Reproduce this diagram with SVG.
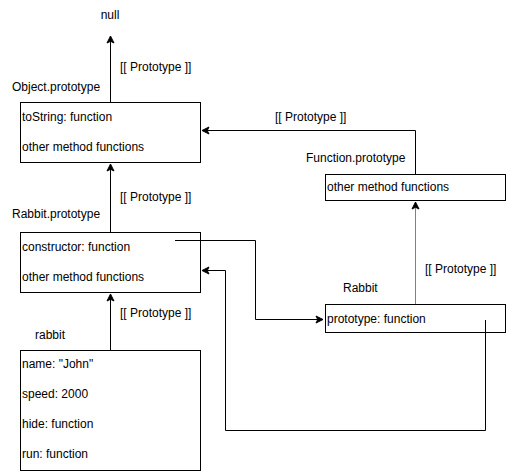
<svg xmlns="http://www.w3.org/2000/svg" width="506" height="471" viewBox="0 0 506 471">
<style>
.box{fill:#fff;stroke:#000;stroke-width:1}
.t{font-family:"Liberation Sans",Arial,Helvetica,sans-serif;font-size:12px;fill:#000}
.c{fill:none;stroke:#000;stroke-width:1}
.g{fill:none;stroke:#808080;stroke-width:1}
</style>
<defs>
<marker id="arr" markerWidth="10" markerHeight="10" refX="8" refY="5" orient="auto" markerUnits="userSpaceOnUse">
<path d="M1,1.5 L8,5 L1,8.5 L2.75,5 Z" fill="#000" stroke="#000" stroke-width="1"/>
</marker>
</defs>
<rect width="506" height="471" fill="#fff"/>
<g id="null"><text class="t" x="110" y="19" text-anchor="middle">null</text></g>
<g id="object-prototype">
<text class="t" x="12" y="91">Object.prototype</text>
<rect class="box" x="20.5" y="102.5" width="180" height="60"/>
<text class="t" x="22" y="121">toString: function</text>
<text class="t" x="22" y="151">other method functions</text>
</g>
<g id="rabbit-prototype">
<text class="t" x="12" y="218">Rabbit.prototype</text>
<rect class="box" x="20.5" y="232.5" width="180" height="60"/>
<text class="t" x="22" y="251">constructor: function</text>
<text class="t" x="22" y="281">other method functions</text>
</g>
<g id="rabbit">
<text class="t" x="35" y="339">rabbit</text>
<rect class="box" x="20.5" y="350.5" width="180" height="120"/>
<text class="t" x="22" y="368">name: "John"</text>
<text class="t" x="22" y="398">speed: 2000</text>
<text class="t" x="22" y="428">hide: function</text>
<text class="t" x="22" y="458">run: function</text>
</g>
<g id="function-prototype">
<text class="t" x="306" y="162">Function.prototype</text>
<rect class="box" x="325.5" y="174.5" width="180" height="26"/>
<text class="t" x="327" y="191">other method functions</text>
</g>
<g id="Rabbit">
<text class="t" x="343" y="292">Rabbit</text>
<rect class="box" x="325.5" y="304.5" width="180" height="28"/>
<text class="t" x="327" y="323">prototype: function</text>
</g>
<g id="connectors">
<path class="c" d="M110.5,102 L110.5,36" marker-end="url(#arr)"/>
<path class="c" d="M110.5,232 L110.5,164" marker-end="url(#arr)"/>
<path class="c" d="M110.5,350 L110.5,294" marker-end="url(#arr)"/>
<path class="c" d="M415.5,174 L415.5,130.5 L202,130.5" marker-end="url(#arr)"/>
<path class="g" d="M415.5,304 L415.5,202" marker-end="url(#arr)"/>
<path class="c" d="M175,240.5 L255.5,240.5 L255.5,319.5 L323,319.5" marker-end="url(#arr)"/>
<path class="c" d="M485.5,320 L485.5,430.5 L225.5,430.5 L225.5,270.5 L202,270.5" marker-end="url(#arr)"/>
<text class="t" x="120" y="71">[[ Prototype ]]</text>
<text class="t" x="120" y="201">[[ Prototype ]]</text>
<text class="t" x="120" y="317">[[ Prototype ]]</text>
<text class="t" x="275" y="121">[[ Prototype ]]</text>
<text class="t" x="425" y="273">[[ Prototype ]]</text>
</g>
</svg>
